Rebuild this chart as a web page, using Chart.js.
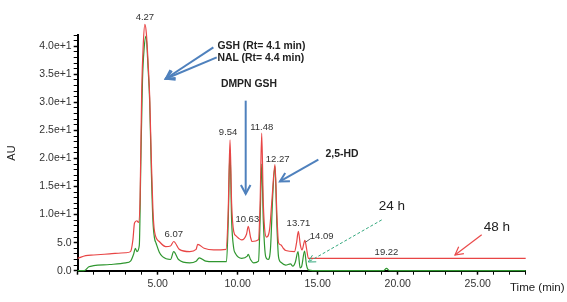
<!DOCTYPE html>
<html>
<head>
<meta charset="utf-8">
<script src="https://cdn.jsdelivr.net/npm/chart.js@4.4.1/dist/chart.umd.min.js"></script>
<style>
  body { margin: 0; background: #fff; }
  #chart { display: block; }
</style>
</head>
<body>
<canvas id="chart" width="567" height="302"></canvas>
<script>
// 48 h trace (red)
var time48 = [0, 0.5, 1.0, 2.0, 3.0, 3.3, 3.45, 3.55, 3.7, 3.8, 3.9, 4.0, 4.1, 4.2, 4.3, 4.4, 4.5, 4.6, 4.7, 4.8,
  5.1, 5.5, 5.8, 6.0, 6.35, 7.0, 7.4, 7.5, 7.9, 8.5, 9.27, 9.4, 9.52, 9.62, 9.75, 9.9, 10.25, 10.55, 10.66, 10.8, 10.9,
  11.3, 11.4, 11.5, 11.6, 11.8, 12.0, 12.15, 12.33, 12.45, 12.55, 12.7, 12.85, 13.0, 13.55, 13.68, 13.79, 13.92, 14.02,
  14.2, 14.3, 14.42, 28];
var au48 = [2.2, 2.7, 2.8, 3.0, 3.2, 3.4, 5.5, 8.5, 8.9, 8.6, 13, 32, 40.5, 43.9, 42, 37, 31, 20, 11, 7.0,
  5.2, 4.3, 4.4, 5.2, 3.8, 3.4, 3.8, 4.7, 4.0, 3.7, 3.8, 10, 23.3, 12, 7, 6.2, 5.5, 6.5, 7.9, 6.0, 5.2,
  5.5, 12, 24.5, 12, 6.0, 7.5, 13, 18.9, 10, 5.0, 4.6, 4.0, 3.6, 3.4, 5.0, 7.0, 4.5, 3.7,
  5.4, 4.0, 2.2, 2.2];

// 24 h trace (green)
var time24 = [0, 0.4, 0.7, 1.0, 2.0, 3.0, 3.3, 3.5, 3.6, 3.7, 3.85, 3.95, 4.05, 4.15, 4.27, 4.4, 4.5, 4.6, 4.7, 4.8,
  4.9, 5.1, 5.3, 5.8, 6.0, 6.3, 7.0, 7.4, 7.6, 8.0, 8.5, 9.3, 9.4, 9.52, 9.62, 9.75, 9.85, 10.25, 10.6, 10.66, 10.8,
  11.0, 11.3, 11.4, 11.5, 11.6, 11.75, 11.9, 12.05, 12.2, 12.33, 12.45, 12.55, 12.7, 13.0, 13.3, 13.45, 13.6, 13.77,
  13.9, 14.0, 14.18, 14.3, 14.45, 15, 19.1, 19.3, 19.5, 28];
var au24 = [0, 0, 0.7, 0.9, 1.1, 1.4, 1.7, 3.0, 4.0, 3.4, 4.5, 20, 34, 39.5, 41.8, 36, 30, 18, 9, 5.8,
  4.9, 3.3, 2.5, 2.0, 3.4, 2.0, 1.4, 1.7, 2.3, 1.7, 1.6, 1.6, 8, 21.5, 9, 4, 3.1, 2.2, 2.6, 2.9, 2.0,
  1.4, 1.7, 9, 19, 9, 2.5, 2.0, 4, 14, 18.6, 8, 2.5, 1.5, 1.0, 1.2, 0.8, 1.5, 3.4,
  0.5, 0.8, 3.5, 1.0, 0.1, 0, 0, 0.4, 0, 0];

// peak labels (retention time text, position in min / AU)
var peakLabels = ["4.27", "6.07", "9.54", "10.63", "11.48", "12.27", "13.71", "14.09", "19.22"];
var peakLabelX = [4.2, 6.0, 9.4, 10.6, 11.5, 12.5, 13.8, 15.25, 19.3];
var peakLabelY = [45.1, 6.4, 24.6, 9.2, 25.6, 19.9, 8.5, 6.2, 3.2];

var xTicks = [5, 10, 15, 20, 25];
var yTicks = [0, 5, 10, 15, 20, 25, 30, 35, 40];

function pts(xs, ys) {
  return xs.map(function (x, i) { return {x: x, y: ys[i]}; });
}

var annot = {
  id: 'annot',
  afterDatasetsDraw: function (chart) {
    var c = chart.ctx;
    var xs = chart.scales.x, ys = chart.scales.y;
    function px(t) { return xs.getPixelForValue(t); }
    function py(v) { return ys.getPixelForValue(v); }

    function arrow(t1, v1, t2, v2, color, width, dash, head) {
      var x1 = px(t1), y1 = py(v1), x2 = px(t2), y2 = py(v2);
      c.save();
      c.strokeStyle = color;
      c.lineWidth = width;
      c.setLineDash(dash);
      c.beginPath();
      c.moveTo(x1, y1);
      c.lineTo(x2, y2);
      c.stroke();
      c.setLineDash([]);
      var a = Math.atan2(y2 - y1, x2 - x1);
      c.beginPath();
      c.moveTo(x2 - head * Math.cos(a - 0.5), y2 - head * Math.sin(a - 0.5));
      c.lineTo(x2, y2);
      c.lineTo(x2 - head * Math.cos(a + 0.5), y2 - head * Math.sin(a + 0.5));
      c.stroke();
      c.restore();
    }

    c.save();
    // peak labels
    c.fillStyle = '#333';
    c.font = '9.5px "Liberation Sans", Arial, sans-serif';
    c.textAlign = 'center';
    c.textBaseline = 'middle';
    peakLabels.forEach(function (s, i) {
      c.fillText(s, px(peakLabelX[i]), py(peakLabelY[i]));
    });
    // leader for 14.09
    c.strokeStyle = '#333';
    c.lineWidth = 0.8;
    c.beginPath();
    c.moveTo(px(14.55), py(5.7));
    c.lineTo(px(14.25), py(5.1));
    c.stroke();

    // compound names
    c.fillStyle = '#222';
    c.font = 'bold 10.4px "Liberation Sans", Arial, sans-serif';
    c.textAlign = 'left';
    c.fillText('GSH (Rt= 4.1 min)', px(8.73), py(39.95));
    c.fillText('NAL (Rt= 4.4 min)', px(8.73), py(37.8));
    c.textAlign = 'center';
    c.fillText('DMPN GSH', px(10.7), py(33.2));
    c.fillText('2,5-HD', px(16.52), py(20.7));

    c.fillStyle = '#222';
    c.font = '13.5px "Liberation Sans", Arial, sans-serif';
    c.fillText('24 h', px(19.64), py(11.55));
    c.fillText('48 h', px(26.2), py(7.8));

    // axis titles
    c.fillStyle = '#222';
    c.font = '11.5px "Liberation Sans", Arial, sans-serif';
    c.textAlign = 'left';
    c.fillText('Time (min)', 510, 288);
    c.save();
    c.translate(12, 153);
    c.rotate(-Math.PI / 2);
    c.textAlign = 'center';
    c.font = '11px "Liberation Sans", Arial, sans-serif';
    c.fillText('AU', 0, 0);
    c.restore();
    c.restore();

    var blue = '#4f81bd';
    arrow(8.48, 39.8, 5.5, 34.2, blue, 2, [], 10);
    arrow(8.69, 38.0, 5.5, 34.2, blue, 2, [], 10);
    arrow(10.5, 30.3, 10.5, 13.7, blue, 2, [], 10);
    arrow(15.04, 19.8, 12.64, 15.9, blue, 2, [], 10);
    arrow(19.0, 9.05, 14.41, 1.55, '#35a87e', 1, [3, 2], 8);
    arrow(25.25, 6.4, 23.58, 2.8, '#ea4a4a', 1.2, [], 9);
  }
};

function makeChart() {
  var chart = new Chart('chart', {
    type: 'line',
    data: {
      datasets: [
        {
          label: '48 h',
          data: pts(time48, au48),
          borderColor: '#e84545',
          borderWidth: 1.2,
          pointRadius: 0,
          cubicInterpolationMode: 'monotone',
          clip: false
        },
        {
          label: '24 h',
          data: pts(time24, au24),
          borderColor: '#2f962f',
          borderWidth: 1.2,
          pointRadius: 0,
          cubicInterpolationMode: 'monotone',
          clip: false
        }
      ]
    },
    options: {
      responsive: false,
      animation: false,
      devicePixelRatio: 1,
      layout: { padding: { left: 0, top: 35, right: 41.3, bottom: 0 } },
      plugins: { legend: { display: false }, tooltip: { enabled: false } },
      scales: {
        x: {
          type: 'linear',
          min: 0,
          max: 28,
          afterFit: function (s) { s.height = 31.3; },
          border: { color: '#000', width: 2 },
          grid: { drawOnChartArea: false, color: '#000', tickLength: 4,
            tickWidth: function (ctx) { return ctx.tick && ctx.tick.value % 5 === 0 ? 1.5 : 1; } },
          ticks: {
            stepSize: 1,
            autoSkip: false,
            maxRotation: 0,
            padding: 3,
            color: '#333',
            font: { family: '"Liberation Sans", Arial, sans-serif', size: 10.5 },
            callback: function (v) { return xTicks.indexOf(v) >= 0 ? v.toFixed(2) : ''; }
          }
        },
        y: {
          min: 0,
          max: 42,
          afterFit: function (s) { s.width = 77.7; },
          border: { color: '#000', width: 2 },
          grid: { drawOnChartArea: false, color: '#000', tickLength: 4,
            tickWidth: function (ctx) { return ctx.tick && ctx.tick.value % 5 === 0 ? 1.5 : 1; } },
          ticks: {
            stepSize: 1,
            autoSkip: false,
            padding: 2,
            color: '#333',
            font: { family: '"Liberation Sans", Arial, sans-serif', size: 10.5 },
            callback: function (v) {
              if (yTicks.indexOf(v) < 0) return '';
              return v < 10 ? v.toFixed(1) : (v / 10).toFixed(1) + 'e+1';
            }
          }
        }
      }
    },
    plugins: [annot]
  });
}

makeChart();
</script>
</body>
</html>
